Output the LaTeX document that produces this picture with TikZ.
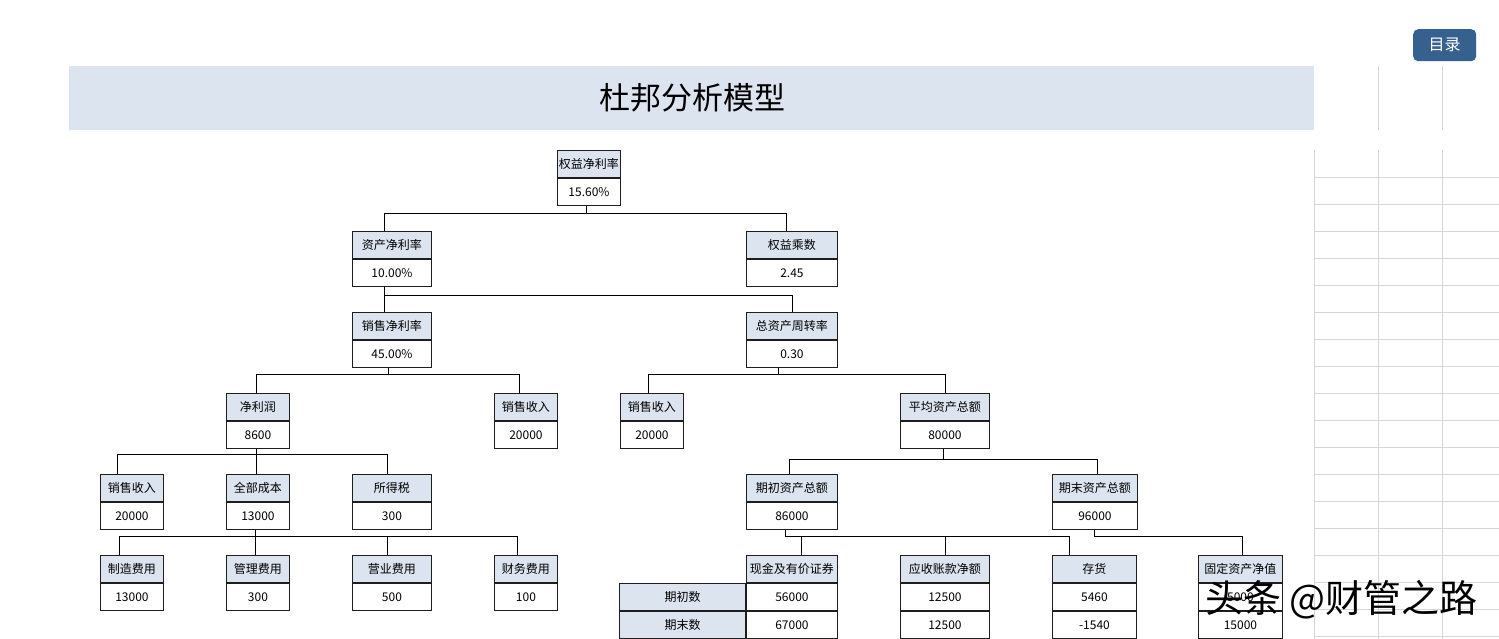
\documentclass[tikz,border=0pt]{standalone}
\usepackage{fontspec}
\setmainfont{Noto Sans CJK SC}
\usetikzlibrary{calc}
\definecolor{hdr}{HTML}{DCE4EF}
\definecolor{gridc}{HTML}{D6D6D6}
\definecolor{btn}{HTML}{36618F}
\definecolor{edge}{HTML}{1E1E1E}
\tikzset{
  cell/.style={draw=edge, line width=0.9pt, minimum height=27pt, inner sep=0pt, font=\fontsize{12}{12}\selectfont, text=black},
  hbox/.style={cell, fill=hdr},
  vbox/.style={cell, fill=white},
  conn/.style={draw=black, line width=0.9pt},
  gridline/.style={draw=gridc, line width=0.8pt}
}
\newcommand\mybox[6]{%
  \node[hbox, minimum width=#4pt, anchor=north west] (#1-h) at (#2,#3) {#5};
  \node[vbox, minimum width=#4pt, anchor=north] (#1-v) at (#1-h.south) {#6};}
\newcommand\mytribox[7]{%
  \mybox{#1}{#2}{#3}{#4}{#5}{#6}
  \node[vbox, minimum width=#4pt, anchor=north] (#1-w) at (#1-v.south) {#7};}
\begin{document}
\begin{tikzpicture}[x=1pt,y=-1pt]
\useasboundingbox[fill=white] (0,0) rectangle (1499,639);
% right-hand sheet grid
\foreach \gx in {1378,1442} \draw[gridline] (\gx,66) -- (\gx,130);
\foreach \gx in {1314,1378,1442} \draw[gridline] (\gx,150) -- (\gx,639);
\foreach \gy in {177,204,...,636} \draw[gridline] (1314,\gy) -- (1499,\gy);
% title banner
\node[fill=hdr, minimum width=1245pt, minimum height=64pt, inner sep=0pt, anchor=north west] (banner) at (69,66) {};
\node[font=\fontsize{31}{31}\selectfont] (title) at (692,98) {杜邦分析模型};
% button
\node[fill=btn, rounded corners=5pt, minimum width=63pt, minimum height=32pt, inner sep=0pt, anchor=north west, text=white, font=\fontsize{16}{16}\selectfont] (menu) at (1413,29) {目录};
% boxes
\mybox{roe}{557}{150}{63}{权益净利率}{15.60\%}
\mybox{ra}{352}{231}{79}{资产净利率}{10.00\%}
\mybox{em}{746}{231}{91}{权益乘数}{2.45}
\mybox{sm}{352}{312}{79}{销售净利率}{45.00\%}
\mybox{tat}{746}{312}{91}{总资产周转率}{0.30}
\mybox{np}{226}{393}{63}{净利润}{8600}
\mybox{sra}{494}{393}{63}{销售收入}{20000}
\mybox{srb}{620}{393}{63}{销售收入}{20000}
\mybox{aa}{900}{393}{89}{平均资产总额}{80000}
\mybox{src}{100}{474}{63}{销售收入}{20000}
\mybox{tc}{226}{474}{63}{全部成本}{13000}
\mybox{it}{352}{474}{79}{所得税}{300}
\mybox{ba}{746}{474}{91}{期初资产总额}{86000}
\mybox{ea}{1052}{474}{85}{期末资产总额}{96000}
\mybox{mf}{100}{555}{63}{制造费用}{13000}
\mybox{ad}{226}{555}{63}{管理费用}{300}
\mybox{op}{352}{555}{79}{营业费用}{500}
\mybox{fi}{494}{555}{63}{财务费用}{100}
\mytribox{cash}{746}{555}{91}{现金及有价证券}{56000}{67000}
\mytribox{ar}{900}{555}{89}{应收账款净额}{12500}{12500}
\mytribox{inv}{1052}{555}{84}{存货}{5460}{-1540}
\mytribox{fa}{1198}{555}{84}{固定资产净值}{5000}{15000}
\node[hbox, minimum width=126pt, anchor=north east] (lbla) at (cash-v.north west) {期初数};
\node[hbox, minimum width=126pt, anchor=north east] (lblb) at (cash-w.north west) {期末数};
% connectors
\draw[conn] ([xshift=-2.5pt]roe-v.south) -- ++(0,8) -| ([xshift=-7.5pt]ra-h.north);
\draw[conn] ([xshift=-2.5pt]roe-v.south) ++(0,8) -| ([xshift=-5.5pt]em-h.north);
\draw[conn] ([xshift=-7.5pt]ra-v.south) -- ([xshift=-7.5pt]sm-h.north);
\draw[conn] ([xshift=-7.5pt]ra-v.south) ++(0,9) -| (tat-h.north);
\draw[conn] ([xshift=-3.5pt]sm-v.south) -- ++(0,7) -| ([xshift=-1.5pt]np-h.north);
\draw[conn] ([xshift=-3.5pt]sm-v.south) ++(0,7) -| ([xshift=-6.5pt]sra-h.north);
\draw[conn] ([xshift=-13.5pt]tat-v.south) -- ++(0,7) -| ([xshift=-3.5pt]srb-h.north);
\draw[conn] ([xshift=-13.5pt]tat-v.south) ++(0,7) -| (aa-h.north);
\draw[conn] ([xshift=-1.5pt]np-v.south) -- ([xshift=-1.5pt]tc-h.north);
\draw[conn] ([xshift=-1.5pt]np-v.south) ++(0,6) -| ([xshift=-14.5pt]src-h.north);
\draw[conn] ([xshift=-1.5pt]np-v.south) ++(0,6) -| ([xshift=-4.5pt]it-h.north);
\draw[conn] ([xshift=-2.5pt]tc-v.south) -- ([xshift=-2.5pt]ad-h.north);
\draw[conn] ([xshift=-2.5pt]tc-v.south) ++(0,7) -| ([xshift=-12.5pt]mf-h.north);
\draw[conn] ([xshift=-2.5pt]tc-v.south) ++(0,7) -| ([xshift=-4.5pt]op-h.north);
\draw[conn] ([xshift=-2.5pt]tc-v.south) ++(0,7) -| ([xshift=-8.5pt]fi-h.north);
\draw[conn] ([xshift=-1.5pt]aa-v.south) -- ++(0,11) -| ([xshift=-2.5pt]ba-h.north);
\draw[conn] ([xshift=-1.5pt]aa-v.south) ++(0,11) -| ([xshift=2.5pt]ea-h.north);
\coordinate (jl) at ($(ba-v.south)+(-6.5,7)$);
\draw[conn] ([xshift=-6.5pt]ba-v.south) -- (jl);
\draw[conn] ([xshift=-0.5pt]ea-v.south) -- ++(0,7) -| ([xshift=2pt]fa-h.north);
\draw[conn] (jl) -| ([xshift=9.5pt]cash-h.north);
\draw[conn] (jl) -| ([xshift=0.5pt]ar-h.north);
\draw[conn] (jl) -| ([xshift=-25pt]inv-h.north);
% watermark
\node[text=black, font=\fontsize{38}{38}\selectfont, anchor=west, inner sep=0pt] (wm) at (1205,600) {头条 @财管之路};
\end{tikzpicture}
\end{document}
